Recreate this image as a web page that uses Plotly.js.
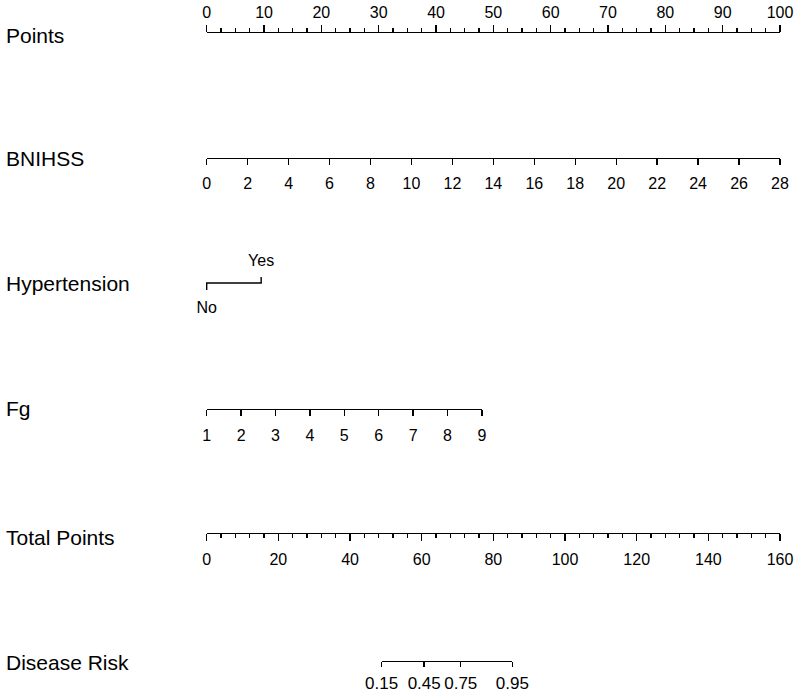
<!DOCTYPE html>
<html>
<head>
<meta charset="utf-8">
<script src="https://cdn.plot.ly/plotly-3.0.1.min.js"></script>
<style>html,body{margin:0;padding:0;background:#fff;}#chart{width:797px;height:695px;}</style>
</head>
<body>
<div id="chart"></div>
<script>
// ---- data ----
const rowLabels = ['Points', 'BNIHSS', 'Hypertension', 'Fg', 'Total Points', 'Disease Risk'];
const pointsRange = [0, 100];
const bnihssRange = [0, 28];
const hypertensionLevels = ['No', 'Yes'];
const hypertensionPoints = [0, 9.5];
const fgRange = [1, 9];
const fgPointsAtMax = 48;          // points reached by Fg = 9
const totalRange = [0, 160];
const riskLabels = ['0.15', '0.45', '0.75', '0.95'];
const riskTotalPoints = [48.8, 60.7, 70.9, 85.3];

// ---- layout geometry ----
const W = 797, H = 695;
const leftPx = 206.7, rightPx = 780;
const FONT = 'Liberation Sans, Arial, sans-serif';
const rowY = {points: 31.5, bnihss: 157.5, hyper: 283, fg: 408.5, total: 532.5, risk: 660.5};
const labelY = [35.5, 158, 283, 408, 537, 662];
const LW = 1.4;

function ptsFrac(p) { return (leftPx + (rightPx - leftPx) * p / 100) / W; }
function totFrac(t) { return (leftPx + (rightPx - leftPx) * t / 160) / W; }
function yPos(py) { return 1 - py / H; }

const tickFont = {family: FONT, size: 16, color: 'black'};
function baseAxis(extra) {
  return Object.assign({
    anchor: 'free', showline: true, linecolor: 'black', linewidth: LW,
    ticks: 'outside', tickcolor: 'black', tickwidth: LW,
    showgrid: false, zeroline: false, tickfont: tickFont, tickangle: 0,
    fixedrange: true, ticklabelstandoff: 0
  }, extra);
}

const layout = {
  width: W, height: H,
  margin: {l: 0, r: 0, t: 0, b: 0},
  paper_bgcolor: 'white', plot_bgcolor: 'rgba(0,0,0,0)',
  showlegend: false,
  yaxis: {domain: [0, 1], range: [H, 0], visible: false, fixedrange: true},
  xaxis: baseAxis({
    domain: [ptsFrac(0), ptsFrac(100)], range: pointsRange,
    position: yPos(rowY.points), side: 'top', ticklen: 7, dtick: 10, tick0: 0,
    minor: {dtick: 2.5, tick0: 0, ticks: 'outside', ticklen: 4, tickcolor: 'black', tickwidth: LW, showgrid: false}
  }),
  xaxis2: baseAxis({
    domain: [ptsFrac(0), ptsFrac(100)], range: bnihssRange,
    position: yPos(rowY.bnihss), side: 'bottom', ticklen: 6, dtick: 2, tick0: 0, ticklabelstandoff: 5
  }),
  xaxis3: baseAxis({
    domain: [ptsFrac(0), ptsFrac(fgPointsAtMax)], range: fgRange,
    position: yPos(rowY.fg), side: 'bottom', ticklen: 6, dtick: 1, tick0: 1, ticklabelstandoff: 6
  }),
  xaxis4: baseAxis({
    domain: [totFrac(0), totFrac(160)], range: totalRange,
    position: yPos(rowY.total), side: 'bottom', ticklen: 7, dtick: 20, tick0: 0, ticklabelstandoff: 5,
    minor: {dtick: 4, tick0: 0, ticks: 'outside', ticklen: 4, tickcolor: 'black', tickwidth: LW, showgrid: false}
  }),
  xaxis5: baseAxis({
    domain: [totFrac(riskTotalPoints[0]), totFrac(riskTotalPoints[riskTotalPoints.length - 1])],
    range: [riskTotalPoints[0], riskTotalPoints[riskTotalPoints.length - 1]],
    position: yPos(rowY.risk), side: 'bottom', ticklen: 5, tickmode: 'array',
    tickvals: riskTotalPoints, ticktext: riskLabels, ticklabelstandoff: 2,
    tickfont: {family: FONT, size: 17, color: 'black'}
  }),
  // invisible points-scale axis spanning the full width for the Hypertension row
  xaxis6: {
    domain: [0, 1], anchor: 'y', visible: false, fixedrange: true,
    range: [-leftPx / ((rightPx - leftPx) / 100), (W - leftPx) / ((rightPx - leftPx) / 100)]
  },
  annotations: rowLabels.map((t, i) => ({
    text: t, xref: 'paper', yref: 'paper', x: 4 / W, y: yPos(labelY[i]),
    xanchor: 'left', yanchor: 'middle', showarrow: false,
    font: {family: FONT, size: 21, color: 'black'}
  }))
};

function anchorTrace(axis, xr) {
  return {x: xr, y: [-100, -100], xaxis: axis, yaxis: 'y', mode: 'markers',
          marker: {opacity: 0}, hoverinfo: 'skip', showlegend: false};
}

const hy = rowY.hyper;
const traces = [
  anchorTrace('x', pointsRange),
  anchorTrace('x2', bnihssRange),
  anchorTrace('x3', fgRange),
  anchorTrace('x4', totalRange),
  anchorTrace('x5', [riskTotalPoints[0], riskTotalPoints[3]]),
  {
    x: [hypertensionPoints[0], hypertensionPoints[0], hypertensionPoints[1], hypertensionPoints[1]],
    y: [hy + 7, hy, hy, hy - 6],
    xaxis: 'x6', yaxis: 'y', mode: 'lines',
    line: {color: 'black', width: LW}, hoverinfo: 'skip'
  },
  {
    x: hypertensionPoints, y: [hy + 26, hy - 21],
    text: hypertensionLevels, xaxis: 'x6', yaxis: 'y', mode: 'text',
    textposition: 'middle center', textfont: tickFont, hoverinfo: 'skip'
  }
];

Plotly.newPlot('chart', traces, layout, {displayModeBar: false, staticPlot: true});
</script>
</body>
</html>
